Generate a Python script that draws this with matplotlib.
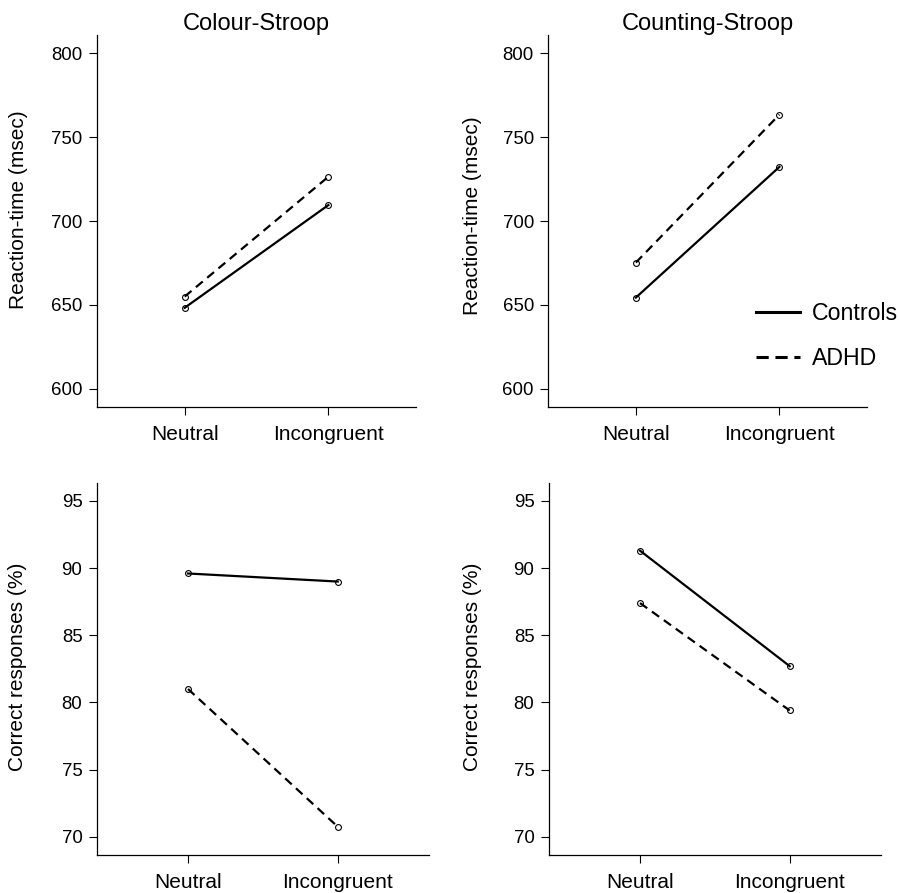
import matplotlib
matplotlib.use("Agg")
import matplotlib.pyplot as plt
from matplotlib.lines import Line2D

plt.rcParams['font.family'] = ['Liberation Sans', 'DejaVu Sans']

conditions = ["Neutral", "Incongruent"]
tasks = ["Colour-Stroop", "Counting-Stroop"]

# Reaction time (msec)
rt_controls = {"Colour-Stroop": [648.2, 709.5], "Counting-Stroop": [654.3, 732.3]}
rt_adhd = {"Colour-Stroop": [654.9, 726.4], "Counting-Stroop": [675.2, 763.5]}

# Correct responses (%)
acc_controls = {"Colour-Stroop": [89.6, 89.0], "Counting-Stroop": [91.3, 82.7]}
acc_adhd = {"Colour-Stroop": [81.0, 70.75], "Counting-Stroop": [87.4, 79.4]}

rt_ticks = [600, 650, 700, 750, 800]
acc_ticks = [70, 75, 80, 85, 90, 95]

W, H = 899, 893
fig = plt.figure(figsize=(W / 100, H / 100), dpi=100)


def px_axes(x0, x1, ytop, ybot):
    return fig.add_axes([x0 / W, 1 - ybot / H, (x1 - x0) / W, (ybot - ytop) / H])


axes = {
    ("rt", 0): px_axes(97, 416, 35, 407),
    ("rt", 1): px_axes(548.3, 867, 35, 407),
    ("acc", 0): px_axes(96.7, 429, 482.7, 855),
    ("acc", 1): px_axes(548.7, 881, 482.7, 855),
}

xpos = [1, 2]
line_kw = dict(color="black", lw=1.6, marker="o", ms=4.2, mfc="none",
               mec="black", mew=0.8)

for (kind, col), ax in axes.items():
    task = tasks[col]
    if kind == "rt":
        ctl, adhd, ticks, lim = rt_controls[task], rt_adhd[task], rt_ticks, (589, 811)
    else:
        ctl, adhd, ticks, lim = acc_controls[task], acc_adhd[task], acc_ticks, (68.64, 96.36)

    ax.plot(xpos, adhd, ls=(0, (4, 2.6)), **line_kw)
    ax.plot(xpos, ctl, ls="-", **line_kw)

    ax.set_xlim(0.39, 2.61)
    ax.set_ylim(*lim)
    ax.set_xticks(xpos)
    ax.set_xticklabels(conditions, fontsize=15)
    ax.set_yticks(ticks)
    ax.set_yticklabels([str(t) for t in ticks], fontsize=13.4)
    ax.tick_params(axis="x", length=5.5, width=0.8, pad=7.5)
    ax.tick_params(axis="y", length=6, width=0.8, pad=4.3)
    for s in ("top", "right"):
        ax.spines[s].set_visible(False)
    for s in ("left", "bottom"):
        ax.spines[s].set_linewidth(0.9)

    if kind == "rt":
        ax.set_title(task, fontsize=17, pad=2)

# Vertical axis titles
fig.text(19 / W, 1 - 210 / H, "Reaction-time (msec)", rotation=90,
         ha="center", va="center", fontsize=15)
fig.text(473 / W, 1 - 216 / H, "Reaction-time (msec)", rotation=90,
         ha="center", va="center", fontsize=15)
fig.text(18 / W, 1 - 667 / H, "Correct responses (%)", rotation=90,
         ha="center", va="center", fontsize=15)
fig.text(473 / W, 1 - 667 / H, "Correct responses (%)", rotation=90,
         ha="center", va="center", fontsize=15)

handles = [Line2D([], [], color="black", lw=2.2, ls="-"),
           Line2D([], [], color="black", lw=2.2, ls=(0, (4, 2.2)))]
fig.legend(handles, ["Controls", "ADHD"], loc="upper left",
           bbox_to_anchor=(756 / W, 1 - 302 / H), frameon=False,
           fontsize=16.7, handlelength=1.9, handletextpad=0.5,
           labelspacing=0.95, borderpad=0, borderaxespad=0)

fig.savefig("out.png", dpi=100)
